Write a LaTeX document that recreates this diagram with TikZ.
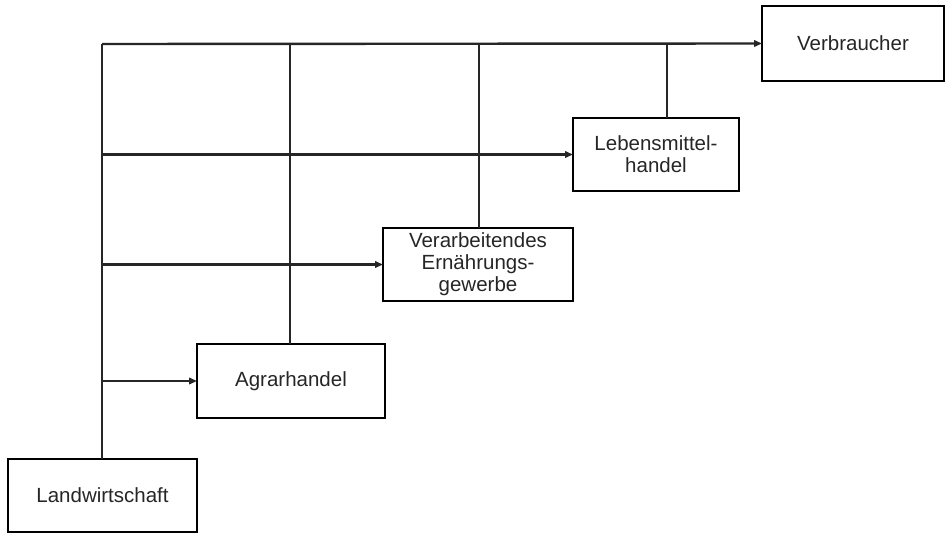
\documentclass[tikz,border=0pt]{standalone}
\usepackage{fontspec}
\setmainfont{Liberation Sans}
\usetikzlibrary{arrows.meta}
\begin{document}
\begin{tikzpicture}[x=1pt,y=-1pt,
  stage/.style={draw, line width=2.4pt, inner sep=0pt, outer sep=0pt,
    align=center, font=\fontsize{20.5}{22}\selectfont, text=black!85},
  link/.style={line width=2.4pt, draw=black!85},
  flow/.style={link, -{Triangle[length=8pt,width=6.5pt]}}]
  \useasboundingbox (0,0) rectangle (952,535);
  % stages of the supply chain
  \node[stage, minimum width=189pt, minimum height=73pt] (land)   at (102.5,495.5) {Landwirtschaft};
  \node[stage, minimum width=188pt, minimum height=74pt] (agrar)  at (291,381) {Agrarhandel};
  \node[stage, minimum width=190pt, minimum height=73pt] (verarb) at (478,264.5) {Verarbeitendes\\Ernährungs-\\gewerbe};
  \node[stage, minimum width=166pt, minimum height=73pt] (lebens) at (656,154.5) {Lebensmittel-\\handel};
  \node[stage, minimum width=182pt, minimum height=75pt] (verbr)  at (853,43.5) {Verbraucher};
  % trunk and junction points
  \coordinate (top) at (102,44);
  \coordinate (lebtop) at (667,118);
  % main trunk from Landwirtschaft to Verbraucher
  \draw[link] (land.north -| top) -- (top);
  \draw[flow] (top) -- (verbr.west);
  % branches off the trunk
  \draw[flow] (top |- agrar.west) -- (agrar.west);
  \draw[flow] (top |- verarb.west) -- (verarb.west);
  \draw[flow] (top |- lebens.west) -- (lebens.west);
  % each stage also feeds the top line
  \draw[link] ([xshift=-1pt]agrar.north) -- ([xshift=-1pt]agrar.north |- top);
  \draw[link] ([xshift=1pt]verarb.north) -- ([xshift=1pt]verarb.north |- top);
  \draw[link] (lebtop) -- (lebtop |- top);
\end{tikzpicture}
\end{document}
